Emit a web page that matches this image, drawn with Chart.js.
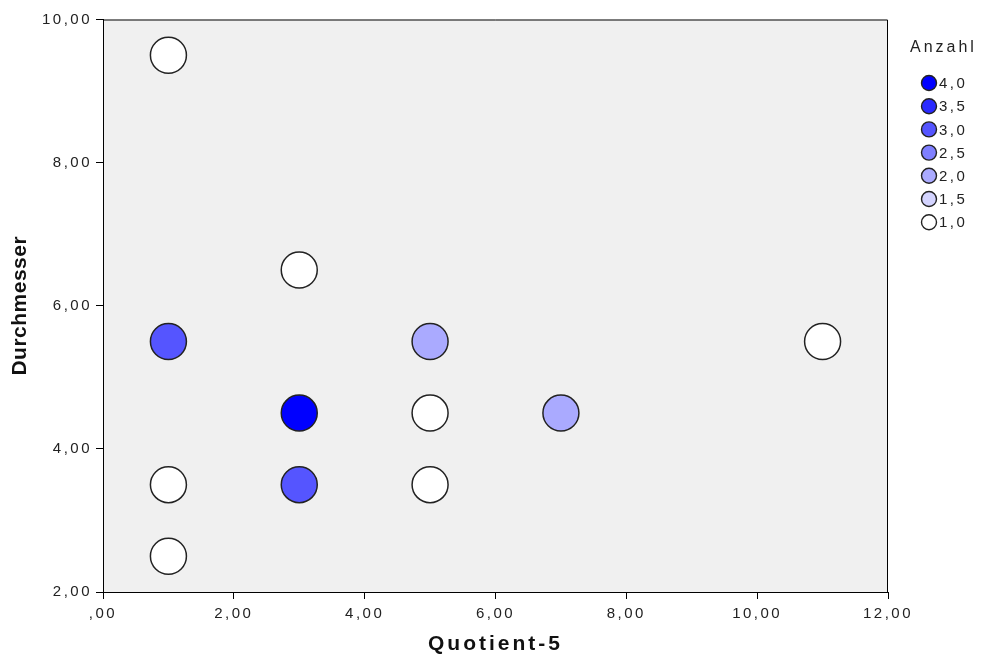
<!DOCTYPE html>
<html>
<head>
<meta charset="utf-8">
<script src="https://cdn.jsdelivr.net/npm/chart.js@4/dist/chart.umd.min.js"></script>
<style>
  html, body { margin: 0; padding: 0; background: #fff; }
  #wrap { width: 986px; height: 666px; }
</style>
</head>
<body>
<div id="wrap"><canvas id="myChart"></canvas></div>
<script>
// data
const xValues = [1, 3, 1, 5, 11, 3, 5, 7, 1, 3, 5, 1];
const yValues = [9.5, 6.5, 5.5, 5.5, 5.5, 4.5, 4.5, 4.5, 3.5, 3.5, 3.5, 2.5];
const counts  = [1, 1, 3, 2, 1, 4, 1, 2, 1, 3, 1, 1];

const xTickLabels = [",00", "2,00", "4,00", "6,00", "8,00", "10,00", "12,00"];
const yTickLabels = ["2,00", "4,00", "6,00", "8,00", "10,00"];

const legendValues = [4.0, 3.5, 3.0, 2.5, 2.0, 1.5, 1.0];
const legendLabels = ["4,0", "3,5", "3,0", "2,5", "2,0", "1,5", "1,0"];
const legendColors = ["#0000ff", "#2a2aff", "#5555ff", "#7f7fff", "#aaaaff", "#d4d4ff", "#ffffff"];

function colorFor(c) {
  const i = legendValues.indexOf(c);
  return legendColors[i];
}

const FONT = "'Liberation Sans', Arial, sans-serif";
const SPACING = "2.5px";

const spssLook = {
  id: "spssLook",
  beforeDraw(chart) {
    const { ctx, chartArea: a } = chart;
    ctx.letterSpacing = SPACING;
    ctx.save();
    ctx.fillStyle = "#f0f0f0";
    ctx.fillRect(a.left, a.top, a.right - a.left, a.bottom - a.top);
    ctx.restore();
    // tracking on the axis titles, like the original
    [["x", "3px"], ["y", "0.5px"]].forEach(([id, sp]) => {
      const s = chart.scales[id];
      if (!s._wrapped) {
        const orig = s.drawTitle;
        s.drawTitle = function (...args) {
          this.ctx.letterSpacing = sp;
          orig.apply(this, args);
          this.ctx.letterSpacing = SPACING;
        };
        s._wrapped = true;
      }
    });
  },
  afterDraw(chart) {
    const { ctx, chartArea: a } = chart;
    ctx.save();
    ctx.strokeStyle = "#000";
    ctx.lineWidth = 1;
    ctx.beginPath();
    ctx.moveTo(a.left, a.top + 0.5);
    ctx.lineTo(a.right - 0.5, a.top + 0.5);
    ctx.lineTo(a.right - 0.5, a.bottom);
    ctx.stroke();

    // legend
    ctx.fillStyle = "#222";
    ctx.textBaseline = "middle";
    ctx.textAlign = "left";
    ctx.letterSpacing = "3px";
    ctx.font = "16px " + FONT;
    ctx.fillText("Anzahl", 910, 48);
    ctx.letterSpacing = SPACING;
    ctx.font = "15px " + FONT;
    legendLabels.forEach((lab, i) => {
      const y = 83 + i * 23.2;
      ctx.beginPath();
      ctx.arc(929, y, 7.5, 0, Math.PI * 2);
      ctx.fillStyle = legendColors[i];
      ctx.fill();
      ctx.strokeStyle = "#222";
      ctx.lineWidth = 1.4;
      ctx.stroke();
      ctx.fillStyle = "#222";
      ctx.fillText(lab, 939, y + 1);
    });
    ctx.restore();
  }
};

new Chart("myChart", {
  type: "scatter",
  data: {
    datasets: [{
      data: xValues.map((x, i) => ({ x: x, y: yValues[i] })),
      backgroundColor: counts.map(colorFor),
      borderColor: "#222",
      borderWidth: 1.5,
      pointRadius: 18,
      pointHoverRadius: 18
    }]
  },
  options: {
    responsive: true,
    maintainAspectRatio: false,
    animation: false,
    layout: { padding: { top: 16, right: 98, left: 0, bottom: 0 } },
    plugins: { legend: { display: false }, tooltip: { enabled: false } },
    scales: {
      x: {
        type: "linear",
        min: 0, max: 12,
        afterFit: s => { s.height = 74; },
        grid: { drawOnChartArea: false, tickLength: 7, color: "#000" },
        border: { color: "#000", width: 1 },
        ticks: {
          stepSize: 2, padding: 6, color: "#222",
          font: { family: FONT, size: 15 },
          maxRotation: 0,
          callback: (v, i) => xTickLabels[i]
        },
        title: {
          display: true, text: "Quotient-5", color: "#111",
          font: { family: FONT, size: 21, weight: "bold" },
          padding: { top: 0, bottom: 9 }
        }
      },
      y: {
        type: "linear",
        min: 2, max: 10,
        afterFit: s => { s.width = 103; },
        grid: { drawOnChartArea: false, tickLength: 7, color: "#000" },
        border: { color: "#000", width: 1 },
        ticks: {
          stepSize: 2, padding: 4, color: "#222",
          font: { family: FONT, size: 15 },
          callback: (v, i) => yTickLabels[i]
        },
        title: {
          display: true, text: "Durchmesser", color: "#111",
          font: { family: FONT, size: 21, weight: "bold" },
          padding: { top: 8, bottom: 0 }
        }
      }
    }
  },
  plugins: [spssLook]
});
</script>
</body>
</html>
